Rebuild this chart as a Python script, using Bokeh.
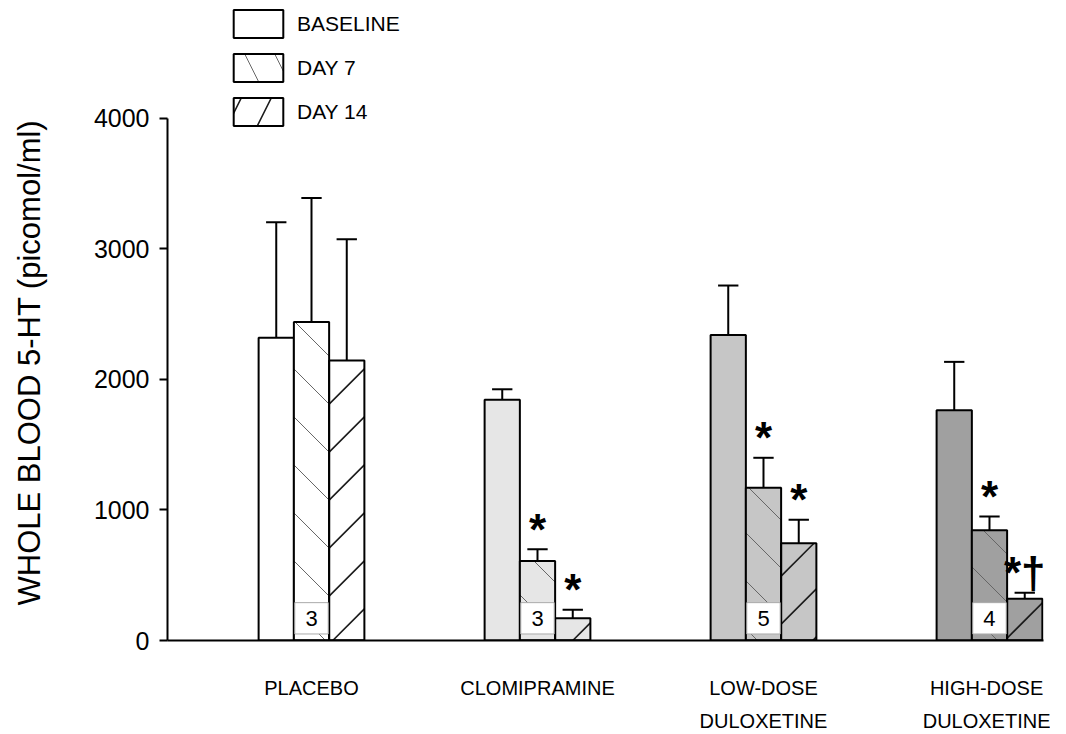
import numpy as np
from bokeh.plotting import figure
from bokeh.models import ColumnDataSource, FixedTicker, Legend, LegendItem, Range1d, Title
from bokeh.core.properties import value
from bokeh.embed import file_html
from bokeh.resources import INLINE

# ---- data ----
groups = ["PLACEBO", "CLOMIPRAMINE", "LOW-DOSE\nDULOXETINE", "HIGH-DOSE\nDULOXETINE"]
baseline = [2320, 1845, 2340, 1765]
baseline_err = [885, 80, 380, 370]
day7 = [2440, 610, 1170, 845]
day7_err = [950, 90, 230, 105]
day14 = [2145, 170, 745, 320]
day14_err = [930, 65, 180, 45]
n_subjects = ["3", "3", "5", "4"]
sig7 = ["", "*", "*", "*"]
sig14 = ["", "*", "*", "*\u2020"]
fills = ["#ffffff", "#e6e6e6", "#c6c6c6", "#a0a0a0"]
y_ticks = [0, 1000, 2000, 3000, 4000]

FONT = "Liberation Sans"
W = 0.156

# figure geometry
PW, PH = 1050, 734
BL, BR, BT, BB = 167, 7, 6, 94
X0, X1 = 0.3628, 4.239
Y0, Y1 = 0, 4858

x = np.arange(1, len(groups) + 1, dtype=float)
xb, x7, x14 = x - W, x, x + W

src = ColumnDataSource(dict(
    xb=xb, x7=x7, x14=x14,
    base=baseline, d7=day7, d14=day14,
    base_top=np.array(baseline) + np.array(baseline_err),
    d7_top=np.array(day7) + np.array(day7_err),
    d14_top=np.array(day14) + np.array(day14_err),
    fill=fills, n=n_subjects, s7=sig7, s14=sig14,
))

# 45-degree hatch lines, clipped to each bar (spacing in screen pixels)
KX = (PW - BL - BR) / (X1 - X0)
KY = (PH - BT - BB) / (Y1 - Y0)
K = KX / KY                 # data-y per data-x for a 45 degree line
S = 48 / KY                 # vertical spacing of hatch lines, in data units


def hatch(xc, tops, direction, phase=0.0):
    out = dict(x0=[], y0=[], x1=[], y1=[])
    for c, T in zip(xc, tops):
        L, R = c - W / 2, c + W / 2
        if direction < 0:
            cmin, cmax = K * L, T + K * R
        else:
            cmin, cmax = -K * R, T - K * L
        for j in range(int(np.ceil((cmin - phase) / S)), int(np.floor((cmax - phase) / S)) + 1):
            C = j * S + phase
            if direction < 0:
                a, b = max(L, (C - T) / K), min(R, C / K)
                ya, yb = C - K * a, C - K * b
            else:
                a, b = max(L, -C / K), min(R, (T - C) / K)
                ya, yb = C + K * a, C + K * b
            if b - a > 1e-6:
                out["x0"].append(a); out["y0"].append(ya)
                out["x1"].append(b); out["y1"].append(yb)
    return out


edge = x7[0] + W / 2
phase14 = (-2 * K * edge) % S
h7 = hatch(x7, day7, -1)
h14 = hatch(x14, day14, +1, phase14)

p = figure(width=PW, height=PH, output_backend="svg", toolbar_location=None,
           x_range=Range1d(X0, X1), y_range=Range1d(Y0, Y1),
           min_border_left=BL, min_border_right=BR, min_border_top=BT, min_border_bottom=BB)
p.outline_line_color = None
p.grid.visible = False
p.background_fill_color = "white"

# bars: fill, hatch, then outline
r_base = p.vbar(x="xb", top="base", width=W, source=src, fill_color="fill",
                line_color="black", line_width=2)
p.vbar(x="x7", top="d7", width=W, source=src, fill_color="fill", line_color=None)
p.vbar(x="x14", top="d14", width=W, source=src, fill_color="fill", line_color=None)
p.segment(x0="x0", y0="y0", x1="x1", y1="y1", source=ColumnDataSource(h7),
          line_color="#666666", line_width=1)
p.segment(x0="x0", y0="y0", x1="x1", y1="y1", source=ColumnDataSource(h14),
          line_color="#1a1a1a", line_width=1.6)
p.vbar(x="x7", top="d7", width=W, source=src, fill_alpha=0, line_color="black", line_width=2)
p.vbar(x="x14", top="d14", width=W, source=src, fill_alpha=0, line_color="black", line_width=2)

# legend proxies (zero-height, sit on the axis line)
r7 = p.vbar(x="x7", top=0, width=W, source=src, fill_color="fill",
            line_color="black", line_width=2,
            hatch_pattern="\\", hatch_color="#666666", hatch_weight=1, hatch_scale=60)
r14 = p.vbar(x="x14", top=0, width=W, source=src, fill_color="fill",
             line_color="black", line_width=2,
             hatch_pattern="/", hatch_color="#1a1a1a", hatch_weight=1.6, hatch_scale=60)

# sample-size boxes inside day-7 bars
p.quad(left=x7 - W / 2 + 0.004, right=x7 + W / 2 - 0.004, bottom=50, top=290,
       fill_color="white", line_color="#aaaaaa", line_width=1)
p.text(x="x7", y=170, text="n", source=src, text_font=value(FONT),
       text_font_size="22px", text_align="center", text_baseline="middle", text_color="black")

# error bars (upper only)
CAP = 0.045
for xc, lo, hi in (("xb", "base", "base_top"), ("x7", "d7", "d7_top"), ("x14", "d14", "d14_top")):
    xs = np.array(src.data[xc])
    p.segment(x0=xs, y0=src.data[lo], x1=xs, y1=src.data[hi], line_color="black", line_width=2)
    p.segment(x0=xs - CAP, y0=src.data[hi], x1=xs + CAP, y1=src.data[hi],
              line_color="black", line_width=2)

# significance marks
for xc, yc, tc in (("x7", "d7_top", "s7"), ("x14", "d14_top", "s14")):
    p.text(x=xc, y=yc, text=tc, source=src, text_font=value(FONT),
           text_font_style="bold", text_font_size="44px", text_align="center",
           text_baseline="alphabetic", y_offset=-20, text_color="black")

# axes
xa = p.xaxis[0]
xa.ticker = FixedTicker(ticks=list(x))
xa.major_label_overrides = {int(i): g for i, g in zip(x, groups)}
xa.major_tick_out = 0
xa.major_tick_in = 0
xa.minor_tick_out = 0
xa.minor_tick_in = 0
xa.axis_line_width = 2
xa.major_label_text_font = FONT
xa.major_label_text_font_size = "20px"
xa.major_label_text_line_height = 1.5
xa.major_label_standoff = 36
xa.major_label_text_color = "black"

ya = p.yaxis[0]
ya.ticker = FixedTicker(ticks=y_ticks)
ya.bounds = (0, 4000)
ya.axis_line_width = 2
ya.major_tick_in = 0
ya.major_tick_out = 8
ya.major_tick_line_width = 2
ya.minor_tick_out = 0
ya.minor_tick_in = 0
ya.major_label_text_font = FONT
ya.major_label_text_font_size = "25px"
ya.major_label_standoff = 10
ya.major_label_text_color = "black"

# spacer between tick labels and the axis title, then the title itself
p.add_layout(Title(text=" ", standoff=18, text_font_size="20px"), "left")
p.add_layout(Title(text="WHOLE BLOOD 5-HT (picomol/ml)", align="left", offset=35,
                   standoff=4, text_font=FONT, text_font_size="31px",
                   text_font_style="normal", text_color="black"), "left")

legend = Legend(items=[
    LegendItem(label="BASELINE", renderers=[r_base], index=0),
    LegendItem(label="DAY 7", renderers=[r7], index=0),
    LegendItem(label="DAY 14", renderers=[r14], index=0),
], location=(60, 511))
legend.glyph_width = 62
legend.glyph_height = 35
legend.label_height = 35
legend.spacing = 9
legend.padding = 0
legend.margin = 0
legend.label_standoff = 8
legend.border_line_color = None
legend.background_fill_alpha = 0
legend.label_text_font = FONT
legend.label_text_font_size = "21px"
legend.label_text_color = "black"
p.add_layout(legend)

open("out.html", "w").write(file_html(p, INLINE))
